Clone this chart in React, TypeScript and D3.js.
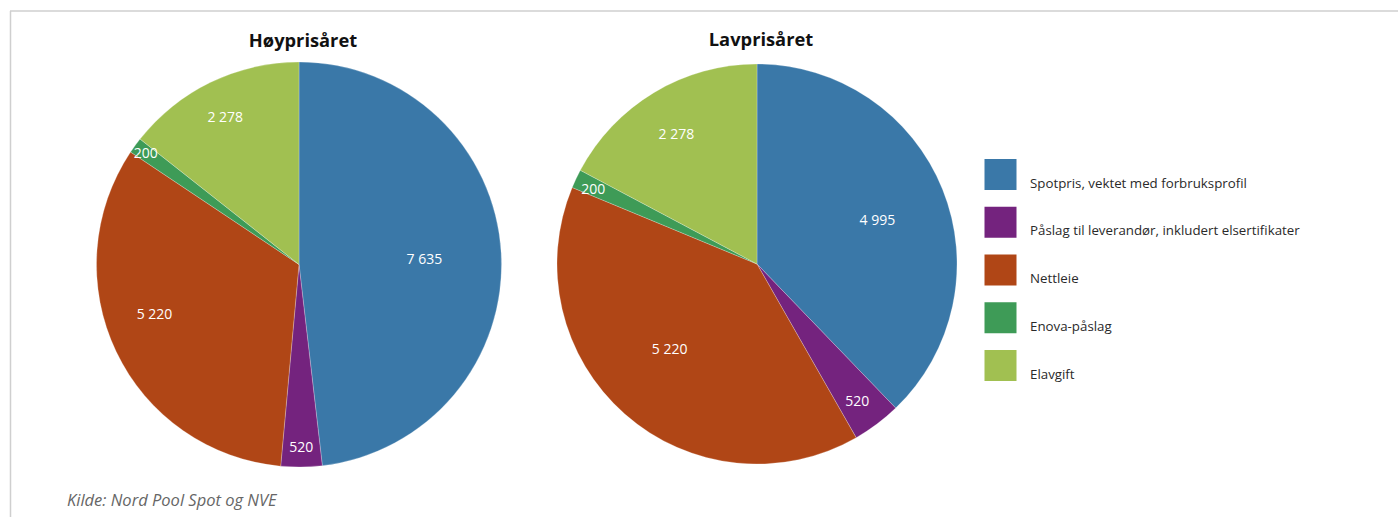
import React from "react";
import * as d3 from "d3";

// Cost components (kr per year) for a typical household
const categories = [
  "Spotpris, vektet med forbruksprofil",
  "Påslag til leverandør, inkludert elsertifikater",
  "Nettleie",
  "Enova-påslag",
  "Elavgift",
];
const colors = ["#3a78a8", "#74237e", "#b04616", "#3e9b57", "#a1c051"];

const highPriceValues = [7635, 520, 5220, 200, 2278];
const lowPriceValues = [4995, 520, 5220, 200, 2278];

const chartTitles = ["Høyprisåret", "Lavprisåret"];
const sourceNote = "Kilde: Nord Pool Spot og NVE";

// Label placement per slice: radius as share of pie radius, plus angular nudge (degrees)
const labelRadiusHigh = [0.62, 0.9, 0.755, 0.935, 0.815];
const labelShiftHigh = [1, 0, 6.5, 0, -0.7];
const labelRadiusLow = [0.64, 0.85, 0.61, 0.9, 0.765];
const labelShiftLow = [2, 0.7, 4.4, -0.6, -0.8];

const fmt = (v: number) => d3.format(",")(v).replace(/,/g, " ");

const FONT = "'Open Sans', 'Noto Sans', sans-serif";

type PieProps = {
  cx: number;
  cy: number;
  r: number;
  values: number[];
  title: string;
  labelR: number[];
  labelShift: number[];
};

function Pie({ cx, cy, r, values, title, labelR, labelShift }: PieProps) {
  const arcs = d3
    .pie<number>()
    .sort(null)
    .value((d) => d)(values);
  const arc = d3.arc<d3.PieArcDatum<number>>().innerRadius(0).outerRadius(r);
  return (
    <g>
      <text
        x={cx + 4}
        y={cy - 218}
        textAnchor="middle"
        fontFamily={FONT}
        fontWeight={700}
        fontSize={18.3}
        fill="#111"
      >
        {title}
      </text>
      <g transform={`translate(${cx},${cy})`}>
        {arcs.map((a, i) => (
          <path
            key={i}
            d={arc(a) || ""}
            fill={colors[i]}
            stroke="#ffffff"
            strokeWidth={0.4}
            strokeOpacity={0.6}
          />
        ))}
        {arcs.map((a, i) => {
          const mid = (a.startAngle + a.endAngle) / 2 + (labelShift[i] * Math.PI) / 180;
          const rr = labelR[i] * r;
          const x = Math.sin(mid) * rr;
          const y = -Math.cos(mid) * rr;
          return (
            <text
              key={i}
              x={x}
              y={y}
              dy="0.36em"
              textAnchor="middle"
              fontFamily={FONT}
              fontSize={14}
              fill="#ffffff"
            >
              {fmt(values[i])}
            </text>
          );
        })}
      </g>
    </g>
  );
}

export default function App() {
  const W = 1398;
  const H = 517;
  const legendY = d3
    .scaleLinear()
    .domain([0, categories.length - 1])
    .range([159, 350]);
  return (
    <svg
      width={W}
      height={H}
      style={{ position: "absolute", left: 0, top: 0, background: "#fff" }}
    >
      {/* frame */}
      <line x1={10.5} y1={11} x2={10.5} y2={H} stroke="#cfcfcf" strokeWidth={1.5} />
      <line x1={10} y1={11} x2={W} y2={11} stroke="#cfcfcf" strokeWidth={1.5} />

      <Pie
        cx={299}
        cy={264.5}
        r={202.5}
        values={highPriceValues}
        title={chartTitles[0]}
        labelR={labelRadiusHigh}
        labelShift={labelShiftHigh}
      />
      <Pie
        cx={757}
        cy={264}
        r={200}
        values={lowPriceValues}
        title={chartTitles[1]}
        labelR={labelRadiusLow}
        labelShift={labelShiftLow}
      />

      {/* legend */}
      {categories.map((c, i) => (
        <g key={c}>
          <rect x={984.5} y={legendY(i)} width={32} height={31} fill={colors[i]} />
          <text
            x={1030}
            y={legendY(i) + 24}
            dy="0.35em"
            fontFamily={FONT}
            fontSize={13.3}
            fill="#2a2a2a"
          >
            {c}
          </text>
        </g>
      ))}

      <text
        x={67}
        y={500}
        dy="0.35em"
        fontFamily={FONT}
        fontStyle="italic"
        fontSize={16.5}
        fill="#666"
      >
        {sourceNote}
      </text>
    </svg>
  );
}
